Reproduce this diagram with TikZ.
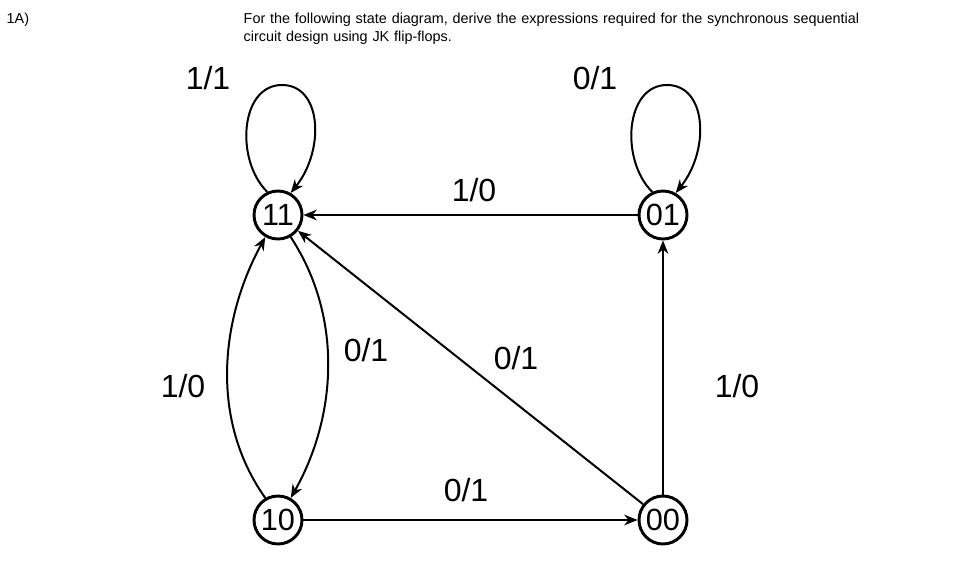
\documentclass[tikz,border=0pt]{standalone}
\usepackage{fontspec}
\setmainfont{Liberation Sans}
\usetikzlibrary{arrows.meta}
\begin{document}
\begin{tikzpicture}[x=0.75pt,y=-0.75pt,
  st/.style={circle,draw,line width=2.2pt,minimum size=36pt,inner sep=0pt,font=\fontsize{23}{24}\selectfont},
  ed/.style={draw,line width=1.5pt,-{Stealth[length=10pt,width=8pt]}},
  lb/.style={font=\fontsize{24}{26}\selectfont},
  hd/.style={font=\fontsize{10.8}{13.5}\selectfont,anchor=north west,align=left}]
\useasboundingbox (0,0) rectangle (976,571);
\node[hd] (h1) at (2,8) {1A)};
\node[hd,text width=540pt] (h2) at (239,8) {For the following state diagram, derive the expressions required for the synchronous sequential\\circuit design using JK flip-flops.};
\node[st] (n11) at (278,215) {11};
\node[st] (n01) at (663,215) {01};
\node[st] (n10) at (278,520) {10};
\node[st] (n00) at (663,520) {00};
\draw[ed] (n11.115) .. controls (235,160) and (240,85) .. (282,85) .. controls (322,85) and (325,150) .. (n11.60);
\draw[ed] (n01.115) .. controls (620,160) and (625,85) .. (667,85) .. controls (707,85) and (710,150) .. (n01.60);
\draw[ed] (n01) -- (n11);
\draw[ed] (n00) -- (n11);
\draw[ed] (n10) -- (n00);
\draw[ed] (n00) -- (n01);
\draw[ed] (n11.-60) .. controls (345,320) and (335,420) .. (n10.60);
\draw[ed] (n10.120) .. controls (210,420) and (220,320) .. (n11.-120);
\node[lb] (l1) at (208,78) {1/1};
\node[lb] (l2) at (595,78) {0/1};
\node[lb] (l3) at (474,190) {1/0};
\node[lb] (l4) at (366,350) {0/1};
\node[lb] (l5) at (516,358) {0/1};
\node[lb] (l6) at (183,386) {1/0};
\node[lb] (l7) at (737,386) {1/0};
\node[lb] (l8) at (466,490) {0/1};
\end{tikzpicture}
\end{document}
